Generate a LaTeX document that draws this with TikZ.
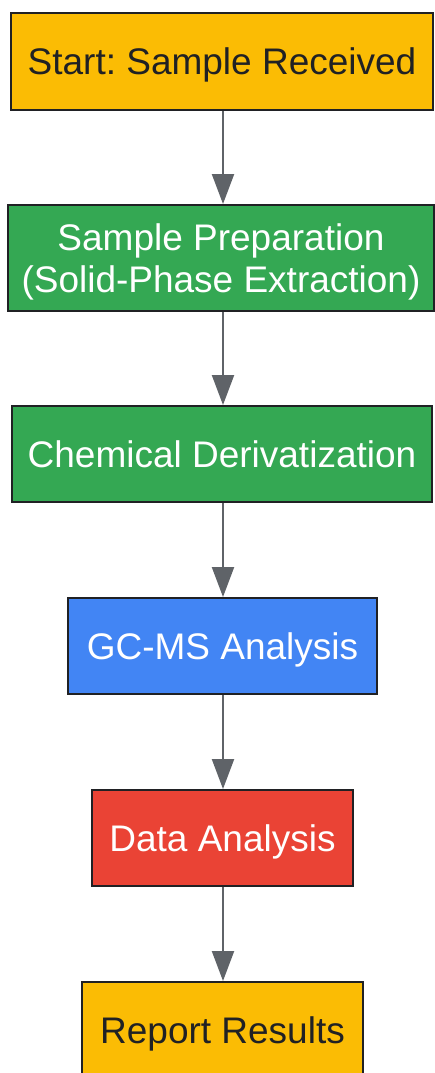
\documentclass[tikz,border=0pt]{standalone}
\usepackage{fontspec}
\setmainfont{Liberation Sans}
\usetikzlibrary{arrows.meta}
\definecolor{gyellow}{HTML}{FBBC04}
\definecolor{ggreen}{HTML}{34A853}
\definecolor{gblue}{HTML}{4285F4}
\definecolor{gred}{HTML}{EA4335}
\definecolor{gdark}{HTML}{202124}
\definecolor{ggray}{HTML}{5F6368}
\tikzset{
  box/.style={draw=gdark, line width=2pt, rectangle, inner sep=0pt, align=center,
    text depth=0pt, font=\fontsize{37}{42}\selectfont\frenchspacing},
  yel/.style={box, fill=gyellow, text=gdark},
  grn/.style={box, fill=ggreen, text=white},
  blu/.style={box, fill=gblue, text=white},
  rd/.style={box, fill=gred, text=white},
  conn/.style={draw=ggray, line width=2.2pt, -{Triangle[length=30pt,width=22pt]}}
}
\begin{document}
\begin{tikzpicture}[x=1pt,y=-1pt]
\useasboundingbox (0,0) rectangle (434,1073);
\node[yel, minimum width=422pt, minimum height=97pt] (n1) at (222,61.5) {Start: Sample Received};
\node[grn, minimum width=426pt, minimum height=106pt] (n2) at (221,258) {Sample Preparation\\(Solid-Phase Extraction)};
\node[grn, minimum width=420pt, minimum height=96pt] (n3) at (222,454) {Chemical Derivatization};
\node[blu, minimum width=309pt, minimum height=96pt] (n4) at (222.5,646) {GC-MS Analysis};
\node[rd, minimum width=261pt, minimum height=96pt] (n5) at (222.5,838) {Data Analysis};
\node[yel, minimum width=281pt, minimum height=96pt] (n6) at (222.5,1030) {Report Results};
\draw[conn] (n1.south -| 223,0) -- (n2.north -| 223,0);
\draw[conn] (n2.south -| 223,0) -- (n3.north -| 223,0);
\draw[conn] (n3.south -| 223,0) -- (n4.north -| 223,0);
\draw[conn] (n4.south -| 223,0) -- (n5.north -| 223,0);
\draw[conn] (n5.south -| 223,0) -- (n6.north -| 223,0);
\end{tikzpicture}
\end{document}
